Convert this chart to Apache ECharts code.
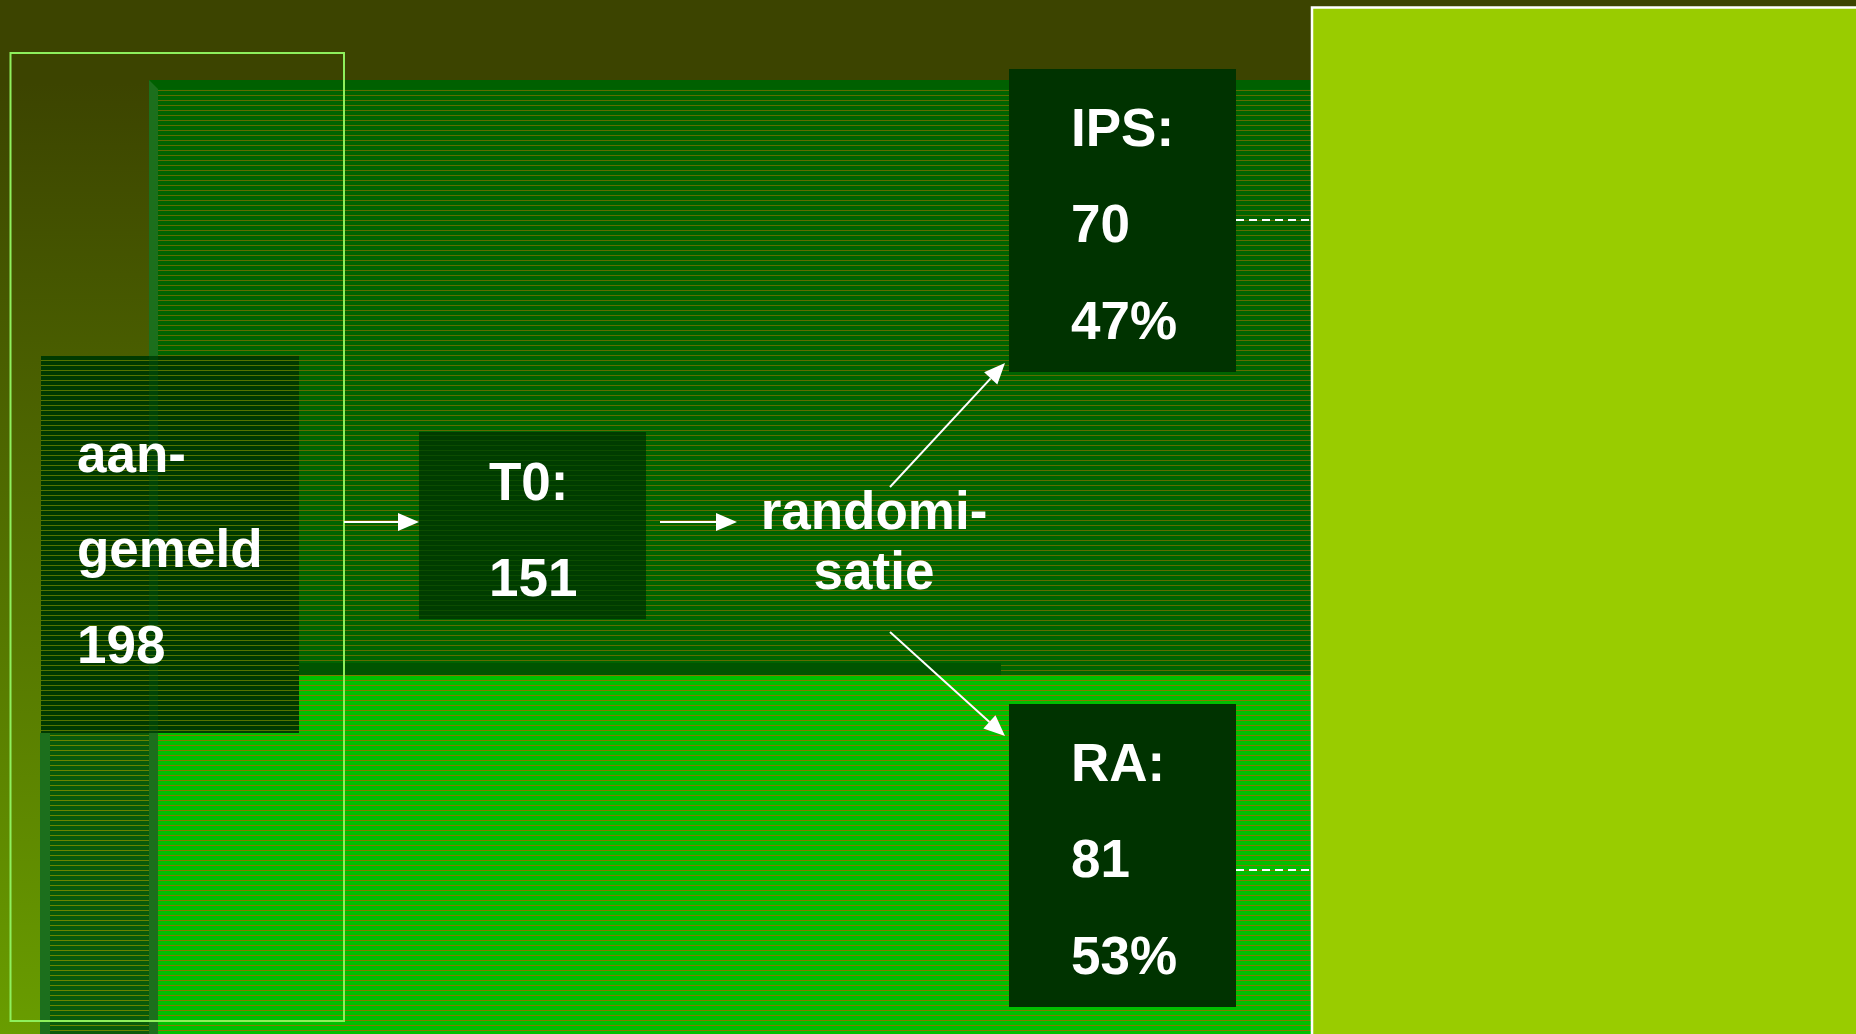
<!DOCTYPE html>
<html>
<head>
<meta charset="utf-8">
<script src="https://cdn.jsdelivr.net/npm/echarts@6/dist/echarts.min.js"></script>
<style>
html, body { margin: 0; padding: 0; background: #3c4400; }
#chart { width: 1856px; height: 1034px; }
</style>
</head>
<body>
<div id="chart"></div>
<script>
// flow of participants
const stageLabels = ['aan-\ngemeld', 'T0:', 'randomi-\nsatie']
const stageCounts = [198, 151]
const armLabels = ['IPS:', 'RA:']
const armCounts = [70, 81]
const armShares = [47, 53]

const W = 1856, H = 1034
const FONT = 'bold 53px "Liberation Sans", Arial, sans-serif'
const MID = 13 // baseline -> middle offset for the font

// striped fill like the old slide texture
function stripes(base, line, gap) {
    const c = document.createElement('canvas')
    c.width = 8
    c.height = gap * 2
    const ctx = c.getContext('2d')
    ctx.fillStyle = base
    ctx.fillRect(0, 0, c.width, c.height)
    ctx.fillStyle = line
    ctx.fillRect(0, 0, c.width, 1)
    ctx.fillRect(0, gap, c.width, 1)
    return { image: c, repeat: 'repeat' }
}

function rect(x, y, w, h, fill, extra) {
    return Object.assign({ type: 'rect', shape: { x, y, width: w, height: h }, style: { fill } }, extra || {})
}

function text(str, x, baseline, align) {
    return {
        type: 'text',
        style: {
            text: str, x, y: baseline - MID, font: FONT, fill: '#fff',
            textAlign: align || 'left', align: align || 'left',
            textVerticalAlign: 'middle', verticalAlign: 'middle'
        }
    }
}

function arrow(x1, y1, x2, y2) {
    const a = Math.atan2(y2 - y1, x2 - x1)
    const len = 21, hw = 9
    const bx = x2 - len * Math.cos(a), by = y2 - len * Math.sin(a)
    return [
        { type: 'line', shape: { x1, y1, x2: bx, y2: by }, style: { stroke: '#fff', lineWidth: 2 } },
        {
            type: 'polygon',
            shape: { points: [[x2, y2], [bx + hw * Math.sin(a), by - hw * Math.cos(a)], [bx - hw * Math.sin(a), by + hw * Math.cos(a)]] },
            style: { fill: '#fff' }
        }
    ]
}

const darkTop = stripes('#006400', '#5f6c00', 5)
const brightLow = stripes('#00c000', '#857800', 5)
const boxDark = stripes('#003a00', '#557400', 5)
const colDark = stripes('#0a5a0a', '#6a8400', 5)
const t0Dark = stripes('#003c00', '#0c4c00', 5)

const elements = [
    rect(0, 0, W, H, {
        type: 'linear', x: 0, y: 0, x2: 0, y2: 1,
        colorStops: [{ offset: 0, color: '#3c4400' }, { offset: 0.08, color: '#3c4400' }, { offset: 1, color: '#699d00' }]
    }),
    rect(149, 80, 1162, 595, darkTop),
    rect(149, 80, 1162, 9, '#006000'),
    rect(158, 675, 1153, H - 675, brightLow),
    rect(299, 663, 702, 12, '#005400'),
    { type: 'polygon', shape: { points: [[149, 80], [158, 89], [158, H], [149, H]] }, style: { fill: '#1c6f1c' } },
    rect(50, 733, 99, H - 733, colDark),
    rect(40, 733, 10, H - 733, '#1c6f1c'),
    // aan-gemeld box
    rect(41, 356, 258, 377, boxDark),
    rect(149, 356, 9, 377, 'rgba(0,90,20,0.35)'),
    // T0 box
    rect(419, 432, 227, 187, t0Dark),
    // outline
    rect(10.5, 53, 333.5, 968, 'none', { style: { fill: 'none', stroke: '#8ef05c', lineWidth: 2 } }),
    // arm boxes
    rect(1009, 69, 227, 303, '#003300'),
    rect(1009, 704, 227, 303, '#003300'),
    { type: 'line', shape: { x1: 1236, y1: 220, x2: 1311, y2: 220 }, style: { stroke: '#fff', lineWidth: 2, lineDash: [8, 5] } },
    { type: 'line', shape: { x1: 1236, y1: 870, x2: 1311, y2: 870 }, style: { stroke: '#fff', lineWidth: 2, lineDash: [8, 5] } },
    // right panel
    rect(1312, 7.5, 600, 1100, '#99cc00', { style: { fill: '#99cc00', stroke: '#fff', lineWidth: 2.5 } })
]

elements.push(...arrow(344, 522, 419, 522))
elements.push(...arrow(660, 522, 737, 522))
elements.push(...arrow(890, 487, 1005, 363))
elements.push(...arrow(890, 632, 1005, 736))

// texts
const aan = stageLabels[0].split('\n')
elements.push(text(aan[0], 77, 470), text(aan[1], 77, 565), text(String(stageCounts[0]), 77, 661))
elements.push(text(stageLabels[1], 489, 498), text(String(stageCounts[1]), 489, 594))
const rnd = stageLabels[2].split('\n')
elements.push(text(rnd[0], 874, 527, 'center'), text(rnd[1], 874, 587, 'center'))

const armTop = [144, 779]
armLabels.forEach((lab, i) => {
    const b = armTop[i]
    elements.push(text(lab, 1071, b), text(String(armCounts[i]), 1071, b + 96), text(armShares[i] + '%', 1071, b + 193))
})

const chart = echarts.init(document.getElementById('chart'), null, { renderer: 'canvas', width: W, height: H })
chart.setOption({
    backgroundColor: '#3c4400',
    animation: false,
    graphic: { elements }
})
</script>
</body>
</html>
